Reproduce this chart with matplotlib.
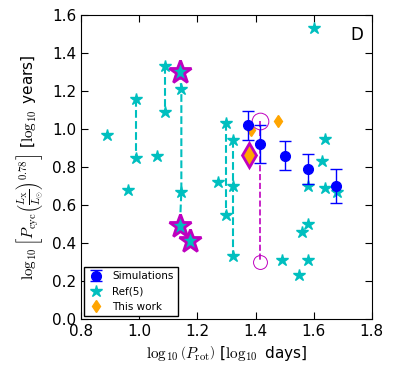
import matplotlib
matplotlib.use('Agg')
import matplotlib.pyplot as plt

plt.rcParams['mathtext.fontset'] = 'cm'

# Simulations
sim_x = [1.375, 1.417, 1.501, 1.579, 1.676]
sim_y = [1.02, 0.92, 0.86, 0.79, 0.70]
sim_err = [0.075, 0.10, 0.075, 0.08, 0.09]

# Ref(5) stars
ref_x = [0.89, 0.96, 1.06, 1.27, 1.49, 1.55, 1.56, 1.58, 1.58, 1.58, 1.60,
         1.63, 1.64, 1.64, 1.68]
ref_y = [0.97, 0.68, 0.86, 0.72, 0.31, 0.23, 0.46, 0.50, 0.31, 0.70, 1.53,
         0.83, 0.95, 0.69, 0.67]

# Ref(5) pairs joined by dashed lines
pair_x = [[0.99, 0.99], [1.09, 1.09], [1.14, 1.145, 1.145, 1.14],
          [1.297, 1.297], [1.323, 1.323, 1.323]]
pair_y = [[1.16, 0.85], [1.33, 1.09], [1.30, 1.21, 0.67, 0.49],
          [1.03, 0.55], [0.94, 0.70, 0.33]]

# highlighted stars
hl_x = [1.14, 1.14, 1.175]
hl_y = [1.30, 0.49, 0.41]

# This work
tw_x = [1.383, 1.476]
tw_y = [0.995, 1.04]
tw_big_x = [1.377]
tw_big_y = [0.865]

# magenta range
mr_x = [1.415, 1.415]
mr_y = [1.04, 0.30]

fig = plt.figure(figsize=(3.99, 3.70), dpi=100)
ax = fig.add_axes([0.203, 0.138, 0.729, 0.821])

for px, py in zip(pair_x, pair_y):
    ax.plot(px, py, ls='--', color='c', lw=1.5, marker='*', ms=9, mec='c', zorder=2)
ax.plot(mr_x, mr_y, ls='--', color='m', lw=1.2, zorder=2)
ax.plot(mr_x[:1], mr_y[:1], 'o', ms=12, mfc='none', mec='m', mew=0.7, zorder=3)
ax.plot(mr_x[1:], mr_y[1:], 'o', ms=10, mfc='none', mec='m', mew=0.7, ls='none', zorder=3)
ax.plot(hl_x, hl_y, '*', ms=17, mfc='c', mec='m', mew=2, zorder=3)

ax.plot(tw_x, tw_y, 'd', color='orange', ms=6, zorder=3)
ax.plot(tw_big_x, tw_big_y, 'd', ms=12, mfc='orange', mec='m', mew=2, zorder=3)
sim = ax.errorbar(sim_x, sim_y, yerr=sim_err, fmt='o', color='b', ms=7, capsize=4,
                  ecolor='b', elinewidth=1, zorder=4)
ref, = ax.plot(ref_x, ref_y, '*', color='c', ms=9, ls='none', zorder=3)
tw, = ax.plot([], [], 'd', color='orange', ms=6)

ax.text(0.97, 0.965, 'D', transform=ax.transAxes, ha='right', va='top', fontsize=12)

ax.set_xlim(0.8, 1.8)
ax.set_ylim(0.0, 1.6)
ax.set_xticks([0.8, 1.0, 1.2, 1.4, 1.6, 1.8])
ax.set_yticks([0.0, 0.2, 0.4, 0.6, 0.8, 1.0, 1.2, 1.4, 1.6])
ax.tick_params(direction='in', top=True, right=True, labelsize=11, length=5)
ax.set_xlabel(r'$\log_{10}\left(P_{\rm rot}\right)$ [$\log_{10}$ days]', fontsize=11)
ax.set_ylabel(r'$\log_{10}\left[P_{\rm cyc}\left(\frac{L_{\rm X}}{L_{\odot}}\right)^{0.78}\right]$ [$\log_{10}$ years]',
              fontsize=11)

leg = ax.legend([sim, ref, tw], ['Simulations', 'Ref(5)', 'This work'],
                loc='lower left', fontsize=7.5, numpoints=1, fancybox=False,
                framealpha=1, borderaxespad=0.3, handlelength=1.5)
leg.get_frame().set_edgecolor('black')

fig.savefig('out.png', dpi=100)
